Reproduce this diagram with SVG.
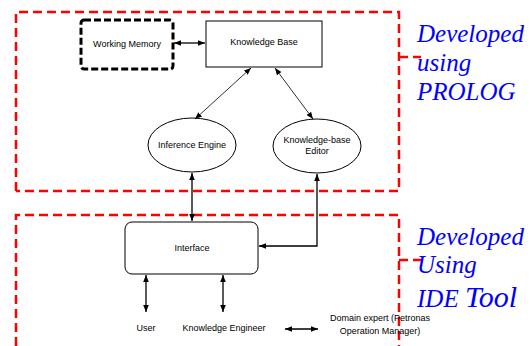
<svg xmlns="http://www.w3.org/2000/svg" width="530" height="346" viewBox="0 0 530 346">
<defs>
<style>
.red{fill:none;stroke:#ff0000;stroke-width:2.5;stroke-dasharray:9 5}
.lbl{font-family:"Liberation Sans",Arial,sans-serif;font-size:9px;fill:#000;text-anchor:middle}
.blue{font-family:"Liberation Serif","Times New Roman",serif;font-style:italic;font-size:25px;fill:#0000ff}
.node{fill:#fff;stroke:#000;stroke-width:1}
.c{fill:none;stroke:#000;stroke-width:1.3}
.thin{fill:none;stroke:#000;stroke-width:0.8}
</style>
<marker id="ah" viewBox="0 0 10 10" refX="10" refY="5" markerWidth="7" markerHeight="7" markerUnits="userSpaceOnUse" orient="auto-start-reverse"><path d="M0,1 L10,5 L0,9 z" fill="#000"/></marker>
</defs>
<rect width="530" height="346" fill="#fff"/>
<g id="regions">
<path class="red" d="M16,191 V12 H399 V191 H16"/>
<path class="red" d="M399,57 H421"/>
<path class="red" d="M16,346 V215 H399 V346"/>
<path class="red" d="M399,260 H421"/>
</g>
<g id="working-memory">
<rect x="81" y="20" width="92" height="49" rx="3" fill="#fff" stroke="#000" stroke-width="3" stroke-dasharray="7 3"/>
<text class="lbl" x="127" y="47">Working Memory</text>
</g>
<g id="knowledge-base">
<rect class="node" x="206" y="21" width="116" height="46"/>
<text class="lbl" x="264" y="45">Knowledge Base</text>
</g>
<g id="inference-engine">
<ellipse class="node" cx="192" cy="145" rx="44" ry="27"/>
<text class="lbl" x="192" y="148">Inference Engine</text>
</g>
<g id="kb-editor">
<ellipse class="node" cx="317" cy="146" rx="44" ry="27"/>
<text class="lbl" x="317" y="143">Knowledge-base</text>
<text class="lbl" x="317" y="154">Editor</text>
</g>
<g id="interface">
<rect class="node" x="125" y="222" width="133" height="52" rx="7"/>
<text class="lbl" x="192" y="251">Interface</text>
</g>
<g id="user"><text class="lbl" x="146" y="331">User</text></g>
<g id="knowledge-engineer"><text class="lbl" x="224" y="331">Knowledge Engineer</text></g>
<g id="domain-expert">
<text class="lbl" x="380" y="321">Domain expert (Petronas</text>
<text class="lbl" x="380" y="334">Operation Manager)</text>
</g>
<g id="connectors">
<path class="c" d="M174,43 H205" marker-start="url(#ah)" marker-end="url(#ah)"/>
<path class="thin" d="M251,68 L195,119" marker-start="url(#ah)" marker-end="url(#ah)"/>
<path class="thin" d="M275,68 L313,119" marker-start="url(#ah)" marker-end="url(#ah)"/>
<path class="c" d="M192,173 V221" marker-start="url(#ah)" marker-end="url(#ah)"/>
<path class="c" d="M317,174 V246 H259" marker-start="url(#ah)" marker-end="url(#ah)"/>
<path class="c" d="M146,275 V312" marker-start="url(#ah)" marker-end="url(#ah)"/>
<path class="c" d="M223,275 V312" marker-start="url(#ah)" marker-end="url(#ah)"/>
<path class="c" d="M285,329 H318" marker-start="url(#ah)" marker-end="url(#ah)"/>
</g>
<g id="notes">
<text class="blue" x="417" y="42">Developed</text>
<text class="blue" x="417" y="71">using</text>
<text class="blue" x="417" y="100">PROLOG</text>
<text class="blue" x="417" y="245">Developed</text>
<text class="blue" x="417" y="273">Using</text>
<text class="blue" x="417" y="307">IDE <tspan font-size="30">Tool</tspan></text>
</g>
</svg>
